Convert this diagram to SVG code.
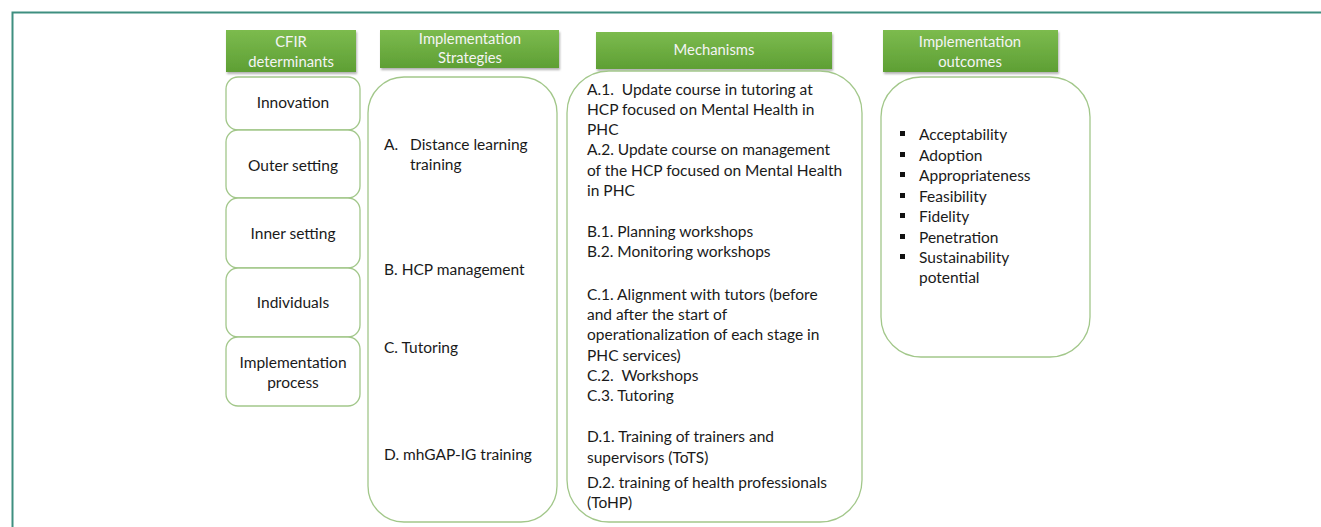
<svg xmlns="http://www.w3.org/2000/svg" width="1321" height="527" viewBox="0 0 1321 527">
  <defs>
    <linearGradient id="hdrFill" x1="0" y1="0" x2="0" y2="1">
      <stop offset="0" stop-color="#7cbb4e"/>
      <stop offset="1" stop-color="#5e9f34"/>
    </linearGradient>
    <filter id="hdrShadow" x="-5%" y="-10%" width="110%" height="130%">
      <feDropShadow dx="1" dy="2" stdDeviation="1.2" flood-color="#000" flood-opacity="0.3"/>
    </filter>
  </defs>
  <style>
    text { font-family: Lato, "Liberation Sans", sans-serif; font-size: 15.5px; fill: #1a1a1a; }
    .hdr rect { fill: url(#hdrFill); filter: url(#hdrShadow); }
    .hdr text { fill: #f4f4f4; text-anchor: middle; font-size: 14.8px; }
    .box { fill: #fff; stroke: #a2c78a; stroke-width: 1.3; }
    .mid { text-anchor: middle; }
    .bullet { fill: #111; }
  </style>

  <rect width="1321" height="527" fill="#fff"/>
  <!-- outer frame -->
  <path d="M12.5 540 V12.5 H1330" fill="none" stroke="#3f8f80" stroke-width="2"/>

  <!-- column headers -->
  <g id="hdr-cfir" class="hdr">
    <rect x="226" y="30" width="130" height="42"/>
    <text x="291" y="47">CFIR</text>
    <text x="291" y="67">determinants</text>
  </g>
  <g id="hdr-strategies" class="hdr">
    <rect x="380" y="30" width="179" height="38"/>
    <text x="470" y="44">Implementation</text>
    <text x="470" y="63">Strategies</text>
  </g>
  <g id="hdr-mechanisms" class="hdr">
    <rect x="596" y="32" width="236" height="37"/>
    <text x="714" y="55">Mechanisms</text>
  </g>
  <g id="hdr-outcomes" class="hdr">
    <rect x="883" y="30" width="175" height="42"/>
    <text x="970" y="47">Implementation</text>
    <text x="970" y="67">outcomes</text>
  </g>

  <!-- CFIR determinants -->
  <g id="cfir-innovation">
    <rect class="box" x="226" y="77" width="134" height="53" rx="12"/>
    <text class="mid" x="293" y="108">Innovation</text>
  </g>
  <g id="cfir-outer">
    <rect class="box" x="226" y="130" width="134" height="68" rx="12"/>
    <text class="mid" x="293" y="171">Outer setting</text>
  </g>
  <g id="cfir-inner">
    <rect class="box" x="226" y="198" width="134" height="70" rx="12"/>
    <text class="mid" x="293" y="239">Inner setting</text>
  </g>
  <g id="cfir-individuals">
    <rect class="box" x="226" y="268" width="134" height="69" rx="12"/>
    <text class="mid" x="293" y="308">Individuals</text>
  </g>
  <g id="cfir-process">
    <rect class="box" x="226" y="337" width="134" height="69" rx="12"/>
    <text class="mid" x="293" y="368">Implementation</text>
    <text class="mid" x="293" y="388">process</text>
  </g>

  <!-- implementation strategies -->
  <g id="strategies">
    <rect class="box" x="368" y="77" width="189" height="445" rx="36"/>
    <text x="384" y="150">A.</text>
    <text x="410" y="150">Distance learning</text>
    <text x="410" y="170">training</text>
    <text x="384" y="275">B. HCP management</text>
    <text x="384" y="353">C. Tutoring</text>
    <text x="384" y="460">D. mhGAP-IG training</text>
  </g>

  <!-- mechanisms -->
  <g id="mechanisms">
    <rect class="box" x="567" y="71" width="295" height="451" rx="42"/>
    <text x="587" y="95" xml:space="preserve">A.1.  Update course in tutoring at</text>
    <text x="587" y="115">HCP focused on Mental Health in</text>
    <text x="587" y="135">PHC</text>
    <text x="587" y="155">A.2. Update course on management</text>
    <text x="587" y="176">of the HCP focused on Mental Health</text>
    <text x="587" y="196">in PHC</text>
    <text x="587" y="237">B.1. Planning workshops</text>
    <text x="587" y="257">B.2. Monitoring workshops</text>
    <text x="587" y="300">C.1. Alignment with tutors (before</text>
    <text x="587" y="320">and after the start of</text>
    <text x="587" y="340">operationalization of each stage in</text>
    <text x="587" y="361">PHC services)</text>
    <text x="587" y="381" xml:space="preserve">C.2.  Workshops</text>
    <text x="587" y="401">C.3. Tutoring</text>
    <text x="587" y="442">D.1. Training of trainers and</text>
    <text x="587" y="463">supervisors (ToTS)</text>
    <text x="587" y="488">D.2. training of health professionals</text>
    <text x="587" y="508">(ToHP)</text>
  </g>

  <!-- implementation outcomes -->
  <g id="outcomes">
    <rect class="box" x="881" y="77" width="209" height="280" rx="40"/>
    <rect class="bullet" x="900" y="131" width="5" height="5"/>
    <rect class="bullet" x="900" y="152" width="5" height="5"/>
    <rect class="bullet" x="900" y="172" width="5" height="5"/>
    <rect class="bullet" x="900" y="193" width="5" height="5"/>
    <rect class="bullet" x="900" y="213" width="5" height="5"/>
    <rect class="bullet" x="900" y="234" width="5" height="5"/>
    <rect class="bullet" x="900" y="254" width="5" height="5"/>
    <text x="919" y="140">Acceptability</text>
    <text x="919" y="161">Adoption</text>
    <text x="919" y="181">Appropriateness</text>
    <text x="919" y="202">Feasibility</text>
    <text x="919" y="222">Fidelity</text>
    <text x="919" y="243">Penetration</text>
    <text x="919" y="263">Sustainability</text>
    <text x="919" y="283">potential</text>
  </g>
</svg>
